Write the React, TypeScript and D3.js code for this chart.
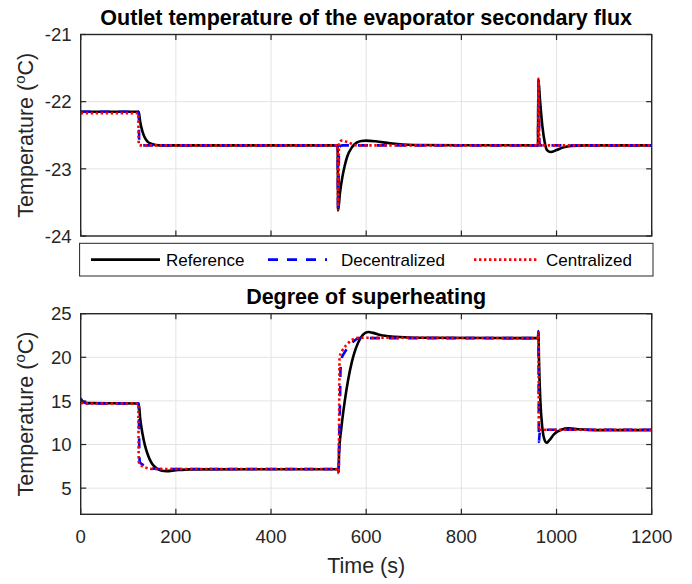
import React from "react";
import * as d3 from "d3";

// ---------- DATA ----------
const xTicks = [0, 200, 400, 600, 800, 1000, 1200];
const topYTicks = [-21, -22, -23, -24];
const botYTicks = [5, 10, 15, 20, 25];
const seriesNames = ["Reference", "Decentralized", "Centralized"];

const topReference: [number, number][] = [
  [0, -22.15], [122, -22.15], [125, -22.3], [130, -22.45], [135, -22.54], [140, -22.59],
  [150, -22.63], [165, -22.65], [540, -22.65], [541, -23.62], [545, -23.35], [550, -23.12],
  [555, -22.95], [560, -22.82], [570, -22.68], [580, -22.61], [590, -22.585], [600, -22.58],
  [620, -22.59], [650, -22.62], [700, -22.645], [800, -22.65], [961, -22.65], [962, -21.67],
  [965, -21.95], [970, -22.35], [975, -22.6], [980, -22.72], [988, -22.75], [1000, -22.72],
  [1015, -22.68], [1030, -22.66], [1060, -22.65], [1200, -22.65],
];
const topDecentralized: [number, number][] = [
  [0, -22.15], [122, -22.15], [123, -22.63], [125, -22.65], [540, -22.65], [541, -23.62],
  [543, -22.7], [546, -22.66], [550, -22.65], [961, -22.65], [962, -21.67], [964, -22.6],
  [966, -22.65], [1200, -22.65],
];
const topCentralized: [number, number][] = [
  [0, -22.17], [121, -22.17], [122, -22.63], [124, -22.65], [540, -22.65], [541, -23.6],
  [543, -22.62], [548, -22.58], [560, -22.6], [580, -22.65], [961, -22.65], [962, -21.66],
  [964, -22.6], [966, -22.66], [970, -22.65], [1200, -22.65],
];

const botReference: [number, number][] = [
  [0, 15.1], [5, 14.9], [15, 14.75], [122, 14.7], [125, 13.0], [130, 11.2], [135, 9.9],
  [140, 9.0], [145, 8.3], [150, 7.8], [160, 7.25], [170, 7.0], [180, 6.95], [200, 7.05],
  [230, 7.15], [541, 7.2], [542, 6.8], [543, 9.0], [548, 12.0], [555, 15.0], [562, 17.4],
  [570, 19.5], [578, 21.0], [588, 22.2], [598, 22.8], [605, 22.9], [615, 22.8], [630, 22.55],
  [660, 22.35], [700, 22.25], [961, 22.2], [962, 22.9], [963, 20], [966, 15], [970, 12],
  [975, 10.5], [979, 10.2], [985, 10.5], [995, 11.2], [1010, 11.7], [1025, 11.85],
  [1045, 11.75], [1080, 11.65], [1200, 11.65],
];
const botDecentralized: [number, number][] = [
  [0, 15.3], [5, 14.9], [15, 14.7], [122, 14.7], [123, 10], [124, 8.0], [130, 7.7],
  [140, 7.4], [160, 7.2], [541, 7.2], [542, 6.8], [543, 10], [545, 15], [546, 18.5],
  [548, 19.8], [555, 20.6], [565, 21.3], [575, 21.9], [585, 22.2], [961, 22.2], [962, 23],
  [963, 10.3], [964, 11], [966, 11.6], [970, 11.7], [1200, 11.7],
];
const botCentralized: [number, number][] = [
  [0, 14.8], [10, 14.7], [121, 14.7], [122, 8.0], [125, 7.7], [135, 7.4], [150, 7.2],
  [541, 7.2], [542, 6.7], [543, 12], [544, 20.0], [550, 20.8], [560, 21.5], [570, 22],
  [585, 22.25], [961, 22.2], [962, 22.8], [963, 11.6], [966, 11.7], [1200, 11.7],
];

// ---------- LAYOUT ----------
const W = 692, H = 584;
const L = 80.7, R = 651.7;
const TOP1 = 34.5, BOT1 = 236;
const TOP2 = 313.7, BOT2 = 514.3;
const FONT = "'Liberation Sans', Arial, Helvetica, sans-serif";
const AX = "#262626";
const GRID = "#e3e3e3";
const TICK = 5.5;
const LABEL_SIZE = 21.5;

const styles = [
  { color: "#000000", dash: undefined as string | undefined, width: 2.6 },
  { color: "#0000ff", dash: "10,9", width: 2.6 },
  { color: "#ff0000", dash: "2.4,2.6", width: 2.6 },
];

const x = d3.scaleLinear().domain([0, 1200]).range([L, R]);

function Panel(props: {
  top: number; bottom: number; domain: [number, number]; yTicks: number[];
  series: [number, number][][]; title: string; showX: boolean; id: string;
}) {
  const { top, bottom, domain, yTicks, series, title, showX, id } = props;
  const y = d3.scaleLinear().domain(domain).range([bottom, top]);
  const line = d3.line<[number, number]>().x(d => x(d[0])).y(d => y(d[1])).curve(d3.curveMonotoneX);
  return (
    <g>
      <defs>
        <clipPath id={id}>
          <rect x={L} y={top} width={R - L} height={bottom - top} />
        </clipPath>
      </defs>
      {xTicks.map(t => (
        <line key={"gx" + t} x1={x(t)} x2={x(t)} y1={top} y2={bottom} stroke={GRID} strokeWidth={1} />
      ))}
      {yTicks.map(t => (
        <line key={"gy" + t} x1={L} x2={R} y1={y(t)} y2={y(t)} stroke={GRID} strokeWidth={1} />
      ))}
      <g clipPath={`url(#${id})`}>
        {series.map((s, i) => (
          <path key={i} d={line(s) || ""} fill="none" stroke={styles[i].color}
            strokeWidth={styles[i].width} strokeDasharray={styles[i].dash}
            strokeLinejoin="round" />
        ))}
      </g>
      {xTicks.map(t => (
        <g key={"tx" + t}>
          <line x1={x(t)} x2={x(t)} y1={bottom} y2={bottom - TICK} stroke={AX} strokeWidth={1.2} />
          <line x1={x(t)} x2={x(t)} y1={top} y2={top + TICK} stroke={AX} strokeWidth={1.2} />
        </g>
      ))}
      {yTicks.map(t => (
        <g key={"ty" + t}>
          <line x1={L} x2={L + TICK} y1={y(t)} y2={y(t)} stroke={AX} strokeWidth={1.2} />
          <line x1={R} x2={R - TICK} y1={y(t)} y2={y(t)} stroke={AX} strokeWidth={1.2} />
          <text x={L - 9} y={y(t)} dy="0.36em" textAnchor="end" fontSize={18.6} fill={AX}>{t}</text>
        </g>
      ))}
      {showX && xTicks.map(t => (
        <text key={"lx" + t} x={x(t)} y={bottom + 29} textAnchor="middle" fontSize={18.6} fill={AX}>{t}</text>
      ))}
      <rect x={L} y={top} width={R - L} height={bottom - top} fill="none" stroke={AX} strokeWidth={1.4} />
      <text x={(L + R) / 2} y={top - 9.5} textAnchor="middle" fontSize={LABEL_SIZE} fontWeight="bold" fill="#000">{title}</text>
      <text transform={`translate(33,${(top + bottom) / 2}) rotate(-90)`} textAnchor="middle" fontSize={LABEL_SIZE} fill={AX}>
        Temperature (<tspan dy={-8.5} fontSize={15}>o</tspan><tspan dy={8.5}>C)</tspan>
      </text>
    </g>
  );
}

function Legend() {
  const lx = 79.6, ly = 243.3, lw = 653 - 79.6, lh = 276 - 243.3;
  const cy = ly + lh / 2;
  const items = [
    { x1: 91, x2: 160, tx: 166 },
    { x1: 268, x2: 327, tx: 341 },
    { x1: 474, x2: 539, tx: 546 },
  ];
  return (
    <g>
      <rect x={lx} y={ly} width={lw} height={lh} fill="#fff" stroke={AX} strokeWidth={1} />
      {items.map((it, i) => (
        <g key={i}>
          <line x1={it.x1} x2={it.x2} y1={cy} y2={cy} stroke={styles[i].color}
            strokeWidth={styles[i].width} strokeDasharray={styles[i].dash} />
          <text x={it.tx} y={cy} dy="0.36em" fontSize={17} fill="#000">{seriesNames[i]}</text>
        </g>
      ))}
    </g>
  );
}

export default function App() {
  return (
    <svg width={W} height={H} style={{ position: "absolute", left: 0, top: 0, background: "#fff" }}
      fontFamily={FONT}>
      <rect width={W} height={H} fill="#fff" />
      <Panel top={TOP1} bottom={BOT1} domain={[-24, -21]} yTicks={topYTicks}
        series={[topReference, topDecentralized, topCentralized]}
        title="Outlet temperature of the evaporator secondary flux" showX={false} id="c1" />
      <Legend />
      <Panel top={TOP2} bottom={BOT2} domain={[2, 25]} yTicks={botYTicks}
        series={[botReference, botDecentralized, botCentralized]}
        title="Degree of superheating" showX={true} id="c2" />
      <text x={(L + R) / 2} y={573} textAnchor="middle" fontSize={LABEL_SIZE} fill={AX}>Time (s)</text>
    </svg>
  );
}
